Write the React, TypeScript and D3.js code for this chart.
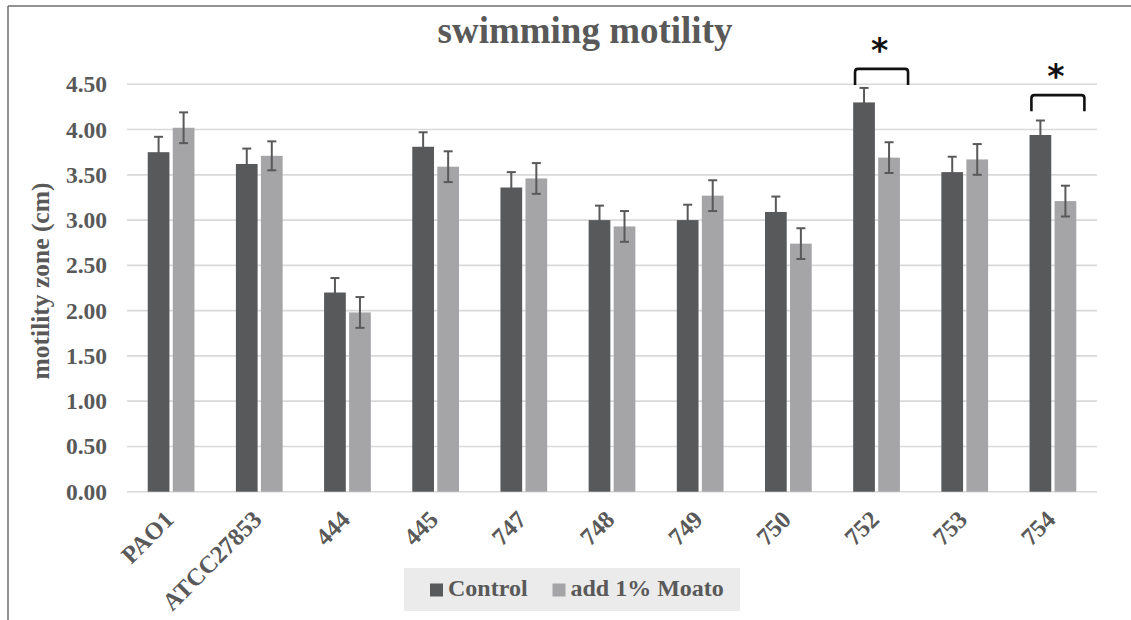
import React from "react";
import * as d3 from "d3";

const categories = ["PAO1", "ATCC27853", "444", "445", "747", "748", "749", "750", "752", "753", "754"];
const seriesNames = ["Control", "add 1% Moato"];
const controlValues = [3.75, 3.62, 2.2, 3.81, 3.36, 3.0, 3.0, 3.09, 4.3, 3.53, 3.94];
const controlErrors = [0.17, 0.17, 0.16, 0.16, 0.17, 0.16, 0.17, 0.17, 0.16, 0.17, 0.16];
const moatoValues = [4.02, 3.71, 1.98, 3.59, 3.46, 2.93, 3.27, 2.74, 3.69, 3.67, 3.21];
const moatoErrors = [0.17, 0.16, 0.17, 0.17, 0.17, 0.17, 0.17, 0.17, 0.17, 0.17, 0.17];
const yTicks = [0, 0.5, 1, 1.5, 2, 2.5, 3, 3.5, 4, 4.5];
const sigCategories = ["752", "754"];
const sigLevels = [4.67, 4.38];

const W = 1131;
const H = 620;
const FONT = "'Liberation Serif', 'Times New Roman', serif";
const TEXT = "#595959";
const COLORS = ["#58595b", "#a5a5a7"];

export default function App() {
  const left = 127;
  const right = 1097;
  const top = 84.3;
  const bottom = 491.7;

  const y = d3.scaleLinear().domain([0, 4.5]).range([bottom, top]);
  const x0 = d3.scaleBand<string>().domain(categories).range([left, right]).paddingInner(0.47).paddingOuter(0.235);
  const x1 = d3.scaleBand<number>().domain([0, 1]).range([0, x0.bandwidth()]).paddingInner(0.132);
  const fmt = d3.format(".2f");

  const series = [
    { name: seriesNames[0], values: controlValues, errors: controlErrors, color: COLORS[0] },
    { name: seriesNames[1], values: moatoValues, errors: moatoErrors, color: COLORS[1] },
  ];

  const center = (c: string) => (x0(c) as number) + x0.bandwidth() / 2;

  return (
    <svg width={W} height={H} style={{ position: "absolute", left: 0, top: 0, background: "#fff" }} fontFamily={FONT}>
      <rect x={0} y={0} width={W} height={H} fill="#fff" />
      {/* frame */}
      <line x1={8} y1={6} x2={W} y2={6} stroke="#6e6e6e" strokeWidth={1.5} />
      <line x1={8} y1={6} x2={8} y2={H} stroke="#6e6e6e" strokeWidth={1.5} />

      {/* title */}
      <text x={585} y={43} textAnchor="middle" fontSize={37} fontWeight="bold" fill={TEXT}>
        swimming motility
      </text>

      {/* gridlines */}
      {yTicks.map((t) => (
        <line key={t} x1={left} x2={right} y1={y(t)} y2={y(t)} stroke="#d9d9d9" strokeWidth={1.6} />
      ))}

      {/* y tick labels */}
      {yTicks.map((t) => (
        <text key={"l" + t} x={107} y={y(t) + 8} textAnchor="end" fontSize={23.5} fontWeight="bold" fill={TEXT}>
          {fmt(t)}
        </text>
      ))}

      {/* y axis title */}
      <text
        transform={`translate(49,281) rotate(-90)`}
        textAnchor="middle"
        fontSize={25.5}
        fontWeight="bold"
        fill={TEXT}
      >
        motility zone (cm)
      </text>

      {/* bars */}
      {series.map((s, si) =>
        categories.map((c, i) => {
          const bx = (x0(c) as number) + (x1(si) as number);
          const bw = x1.bandwidth();
          return (
            <rect key={s.name + c} x={bx} y={y(s.values[i])} width={bw} height={y(0) - y(s.values[i])} fill={s.color} />
          );
        })
      )}

      {/* error bars */}
      {series.map((s, si) =>
        categories.map((c, i) => {
          const cx = (x0(c) as number) + (x1(si) as number) + x1.bandwidth() / 2;
          const hi = y(s.values[i] + s.errors[i]);
          const lo = y(s.values[i] - s.errors[i]);
          return (
            <g key={"e" + s.name + c} stroke="#595959" strokeWidth={2}>
              <line x1={cx} x2={cx} y1={hi} y2={lo} />
              <line x1={cx - 4.5} x2={cx + 4.5} y1={hi} y2={hi} />
              <line x1={cx - 4.5} x2={cx + 4.5} y1={lo} y2={lo} />
            </g>
          );
        })
      )}

      {/* x labels */}
      {categories.map((c) => (
        <text
          key={"x" + c}
          transform={`translate(${center(c) + 4},${521}) rotate(-45)`}
          textAnchor="end"
          fontSize={24.5}
          fontWeight="bold"
          fill={TEXT}
        >
          {c}
        </text>
      ))}

      {/* significance brackets */}
      {sigCategories.map((c, k) => {
        const cx = center(c) + 5;
        const ty = y(sigLevels[k]);
        const hw = 26.5;
        const leg = 16;
        const r = 3;
        const p = d3.path();
        p.moveTo(cx - hw, ty + leg);
        p.lineTo(cx - hw, ty + r);
        p.quadraticCurveTo(cx - hw, ty, cx - hw + r, ty);
        p.lineTo(cx + hw - r, ty);
        p.quadraticCurveTo(cx + hw, ty, cx + hw, ty + r);
        p.lineTo(cx + hw, ty + leg);
        return (
          <g key={"s" + c}>
            <path d={p.toString()} fill="none" stroke="#111" strokeWidth={2.6} />
            <text x={center(c) + 3} y={ty - 7} textAnchor="middle" fontSize={33} fontWeight="bold" fontFamily="'DejaVu Sans', sans-serif" fill="#111">
              *
            </text>
          </g>
        );
      })}

      {/* legend */}
      <rect x={404} y={568} width={336} height={43} fill="#ebebeb" />
      <rect x={430} y={583.5} width={13} height={13} fill={COLORS[0]} />
      <text x={448} y={596} fontSize={24} fontWeight="bold" fill={TEXT}>
        {seriesNames[0]}
      </text>
      <rect x={552.5} y={583.5} width={13} height={13} fill={COLORS[1]} />
      <text x={570.5} y={596} fontSize={24} fontWeight="bold" fill={TEXT}>
        {seriesNames[1]}
      </text>
    </svg>
  );
}
